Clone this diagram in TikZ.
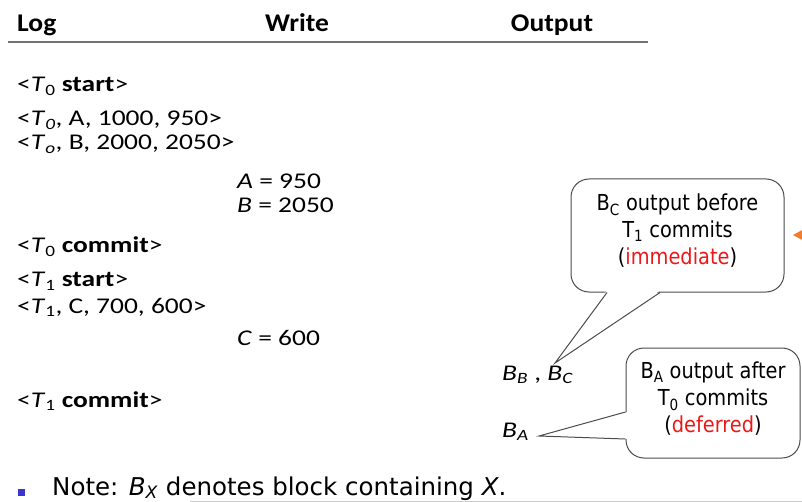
\documentclass[tikz,border=0pt]{standalone}
\usepackage{fontspec}
\setmainfont{Carlito}
\newfontfamily\headfont{Carlito}[FakeStretch=1.08]
\newfontfamily\logfont{Carlito}[FakeStretch=1.22]
\newfontfamily\callfont{DejaVu Sans}[FakeStretch=0.88]
\newfontfamily\notefont{DejaVu Sans}
\usetikzlibrary{positioning}

\definecolor{softred}{RGB}{235,25,25}
\definecolor{bulletblue}{RGB}{55,55,205}
\definecolor{tiporange}{RGB}{240,125,45}

\begin{document}
\begin{tikzpicture}[x=1pt, y=-1pt,
  head/.style={anchor=base, inner sep=0pt, font=\headfont\fontsize{25.5}{28}\selectfont\bfseries},
  log entry/.style={anchor=base west, inner sep=0pt, font=\logfont\fontsize{22.5}{24}\selectfont},
  talk box/.style={draw=black!70, line width=1pt, rounded corners=18pt, fill=white, inner sep=0pt},
  call text/.style={align=center, inner sep=0pt, font=\callfont\fontsize{22}{27}\selectfont}]

  \useasboundingbox (0,0) rectangle (802,502);

  % column heads
  \node[head, anchor=base west] (log) at (17,32) {Log};
  \node[head] (write) at (297,32) {Write};
  \node[head] (output) at (552,32) {Output};
  \draw[black!55, line width=1.5pt] (8,42) -- (648,42);

  % log records
  \node[log entry] (l0) at (17,92) {<\textit{T}\textsubscript{0} \textbf{start}>};
  \node[log entry] (l1) at (17,126) {<\textit{T}\textsubscript{\textit{0}}, A, 1000, 950>};
  \node[log entry] (l2) at (17,150) {<\textit{T}\textsubscript{\textit{o}}, B, 2000, 2050>};
  \node[log entry] (w0) at (237,189) {\textit{A} = 950};
  \node[log entry] (w1) at (237,213) {\textit{B} = 2050};
  \node[log entry] (l3) at (17,253) {<\textit{T}\textsubscript{0} \textbf{commit}>};
  \node[log entry] (l4) at (17,287) {<\textit{T}\textsubscript{1} \textbf{start}>};
  \node[log entry] (l5) at (17,313) {<\textit{T}\textsubscript{1}, C, 700, 600>};
  \node[log entry] (w2) at (237,345) {\textit{C} = 600};
  \node[log entry] (l6) at (17,407) {<\textit{T}\textsubscript{1} \textbf{commit}>};

  % blocks sent to disk
  \node[log entry] (obc) at (502,380) {\textit{B}\textsubscript{\textit{B}} , \textit{B}\textsubscript{\textit{C}}};
  \node[log entry] (oba) at (502,437) {\textit{B}\textsubscript{\textit{A}}};
  \coordinate (tipC) at ([xshift=53pt,yshift=17pt]obc.base west);
  \coordinate (tipA) at ([xshift=37pt,yshift=1pt]oba.base west);

  % immediate callout
  \node[talk box, minimum width=213, minimum height=113] (boxC) at (677.5,235.5) {};
  \fill[white] ([xshift=-70.5pt,yshift=2pt]boxC.south) -- (tipC) -- ([xshift=-17.5pt,yshift=2pt]boxC.south) -- cycle;
  \draw[black!70, line width=1pt] ([xshift=-70.5pt]boxC.south) -- (tipC) -- ([xshift=-17.5pt]boxC.south);
  \node[call text] (txtC) at (677.5,231) {B\textsubscript{C} output before\\T\textsubscript{1} commits\\(\textcolor{softred}{immediate})};

  % deferred callout
  \node[talk box, minimum width=174, minimum height=110] (boxA) at (713,403) {};
  \fill[white] ([xshift=2pt,yshift=-9pt]boxA.west) -- (tipA) -- ([xshift=2pt,yshift=-36pt]boxA.west) -- cycle;
  \draw[black!70, line width=1pt] ([yshift=-9pt]boxA.west) -- (tipA) -- ([yshift=-36pt]boxA.west);
  \node[call text] (txtA) at (713,399) {B\textsubscript{A} output after\\T\textsubscript{0} commits\\(\textcolor{softred}{deferred})};

  \fill[tiporange] (793,235) -- (804,229) -- (804,241) -- cycle;

  % note at the foot
  \node[fill=bulletblue, minimum size=7, inner sep=0pt] (dot) at (21.5,492.5) {};
  \node[anchor=base west, inner sep=0pt, font=\notefont\fontsize{24.5}{28}\selectfont] (note) at (52,495)
    {Note: \textit{B}\textsubscript{\textit{X}} denotes block containing \textit{X}.};
  \draw[black!20] (190,501) -- (802,501);
\end{tikzpicture}
\end{document}
